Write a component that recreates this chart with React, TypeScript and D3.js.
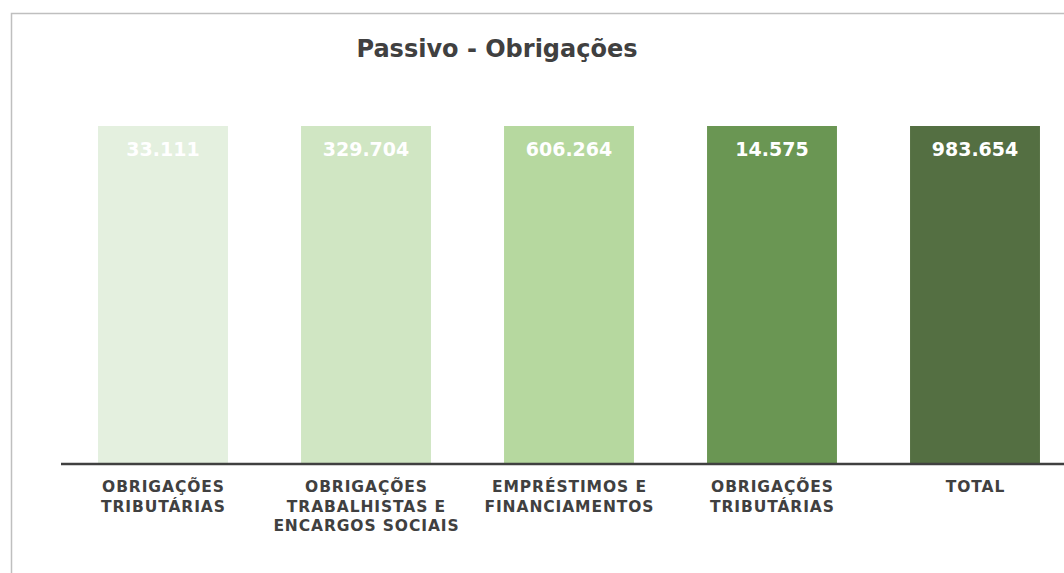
import React from "react";
import * as d3 from "d3";

const categories: string[][] = [
  ["OBRIGAÇÕES", "TRIBUTÁRIAS"],
  ["OBRIGAÇÕES", "TRABALHISTAS E", "ENCARGOS SOCIAIS"],
  ["EMPRÉSTIMOS E", "FINANCIAMENTOS"],
  ["OBRIGAÇÕES", "TRIBUTÁRIAS"],
  ["TOTAL"],
];
const valueLabels = ["33.111", "329.704", "606.264", "14.575", "983.654"];
const plotted = [1, 1, 1, 1, 1];
const colors = ["#e4f0df", "#d0e6c3", "#b6d89f", "#6a9653", "#546f42"];
const title = "Passivo - Obrigações";

export default function App() {
  const W = 1064, H = 573;
  const x = d3
    .scaleBand<number>()
    .domain(d3.range(categories.length))
    .range([61.5, 1076.5])
    .paddingInner(0.36)
    .paddingOuter(0.18);
  const y = d3.scaleLinear().domain([0, 1]).range([463, 126]);
  const font = "'DejaVu Sans', sans-serif";
  const ls = 0.9;
  return (
    <svg width={W} height={H} style={{ position: "absolute", left: 0, top: 0, background: "#fff" }}>
      <rect x={11.5} y={13.5} width={1070} height={600} fill="#fff" stroke="#bfbfbf" strokeWidth={1.5} />
      <text x={497} y={57} textAnchor="middle" fontFamily={font} fontWeight="bold" fontSize={24} fill="#404040">
        {title}
      </text>
      {plotted.map((v, i) => (
        <g key={i}>
          <rect x={x(i)} y={y(v)} width={x.bandwidth()} height={y(0) - y(v)} fill={colors[i]} />
          <text
            x={(x(i) as number) + x.bandwidth() / 2}
            y={y(v) + 30}
            textAnchor="middle"
            fontFamily={font}
            fontWeight="bold"
            fontSize={19}
            fill="#fff"
          >
            {valueLabels[i]}
          </text>
          {categories[i].map((line, j) => (
            <text
              key={j}
              x={(x(i) as number) + x.bandwidth() / 2 + ls / 2}
              y={492 + j * 19.5}
              textAnchor="middle"
              fontFamily={font}
              fontWeight="bold"
              fontSize={15.5}
              letterSpacing={ls}
              fill="#404040"
            >
              {line}
            </text>
          ))}
        </g>
      ))}
      <line x1={61} x2={1064} y1={464} y2={464} stroke="#404040" strokeWidth={2.5} />
    </svg>
  );
}
